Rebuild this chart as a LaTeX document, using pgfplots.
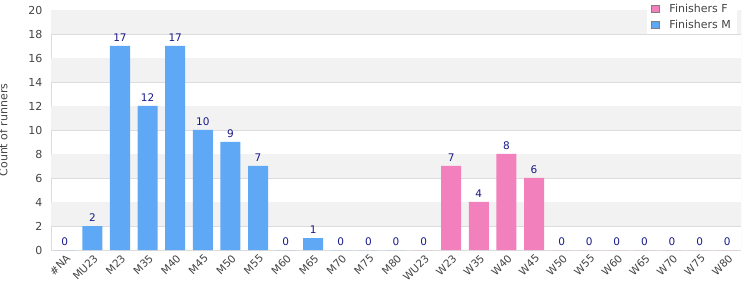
\documentclass[border=0pt]{standalone}
\usepackage{pgfplots}
\pgfplotsset{compat=1.18}
\usepackage{fontspec}
\setmainfont{DejaVu Sans}
\definecolor{barM}{RGB}{95,168,245}
\definecolor{barF}{RGB}{242,128,188}
\definecolor{lab}{RGB}{25,25,140}
\definecolor{tick}{RGB}{68,68,68}
\definecolor{gridc}{RGB}{220,220,220}
\definecolor{band}{RGB}{242,242,242}
\begin{document}
\begin{tikzpicture}
\begin{axis}[
  set layers,
  scale only axis,
  width=690pt, height=240pt,
  xmin=-0.5, xmax=24.5,
  ymin=0, ymax=20,
  ytick={0,2,...,20},
  xtick={0,...,24},
  xticklabels={\#NA,MU23,M23,M35,M40,M45,M50,M55,M60,M65,M70,M75,M80,WU23,W23,W35,W40,W45,W50,W55,W60,W65,W70,W75,W80},
  x tick label style={rotate=45, anchor=north east, font=\fontsize{10.5}{12}\selectfont, text=tick, yshift=-1pt, inner sep=2pt},
  y tick label style={font=\fontsize{11}{13}\selectfont, text=tick, xshift=-5pt},
  major tick length=0pt,
  ymajorgrids, grid style={gridc, line width=0.8pt},
  axis line style={gridc, line width=0.8pt},
  axis x line*=bottom, axis y line*=left,
  ylabel={Count of runners},
  ylabel style={font=\fontsize{11}{13}\selectfont, text=tick},
  ylabel shift=14pt,
  ybar, bar width=20pt, bar shift=0pt,
  nodes near coords,
  every node near coord/.append style={font=\fontsize{10.5}{12}\selectfont, text=lab, yshift=1pt},
  legend style={at={(1,1)}, anchor=north east, xshift=-4pt, yshift=10pt, draw=none, fill=white,
    font=\fontsize{11}{13}\selectfont, text=tick, row sep=2pt, inner xsep=4pt, inner ysep=2pt},
  legend cell align=left,
  legend image code/.code={\draw[#1, draw=gray, line width=0.8pt] (0cm,-0.12cm) rectangle (0.25cm,0.13cm); \path (0.55cm,0);},
  /pgf/number format/assume math mode=true,
]
\fill[band, on layer=axis background] (axis cs:-0.5,2) rectangle (axis cs:24.5,4);
\fill[band, on layer=axis background] (axis cs:-0.5,6) rectangle (axis cs:24.5,8);
\fill[band, on layer=axis background] (axis cs:-0.5,10) rectangle (axis cs:24.5,12);
\fill[band, on layer=axis background] (axis cs:-0.5,14) rectangle (axis cs:24.5,16);
\fill[band, on layer=axis background] (axis cs:-0.5,18) rectangle (axis cs:24.5,20);
\draw[gridc, line width=0.8pt] (axis cs:24.5,0) -- (axis cs:24.5,20);
\addplot[fill=barF, draw=none] coordinates {
(13,0) (14,7) (15,4) (16,8) (17,6) (18,0) (19,0) (20,0) (21,0) (22,0) (23,0) (24,0)};
\addlegendentry{Finishers F}
\addplot[fill=barM, draw=none] coordinates {
(0,0) (1,2) (2,17) (3,12) (4,17) (5,10) (6,9) (7,7) (8,0) (9,1) (10,0) (11,0) (12,0)};
\addlegendentry{Finishers M}
\end{axis}
\pgfresetboundingbox
\path (current axis.south west) ++(-51pt,-50pt) rectangle ++(750pt,300pt);
\end{tikzpicture}
\end{document}
